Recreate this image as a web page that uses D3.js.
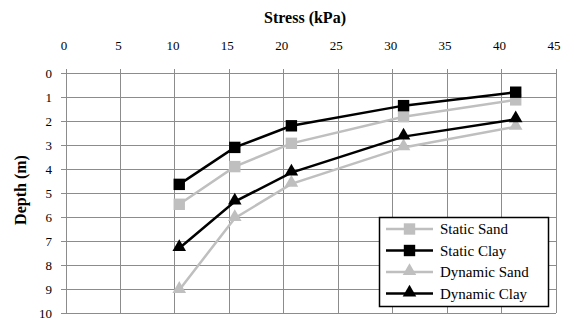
<!DOCTYPE html>
<html>
<head>
<meta charset="utf-8">
<script src="https://cdn.jsdelivr.net/npm/d3@7"></script>
<style>
  body { margin: 0; background: #fff; }
  svg { display: block; }
</style>
</head>
<body>
<svg width="562" height="320"></svg>
<script>
// stress values (kPa) shared by every series
const stress = [10.4, 15.5, 20.7, 31.0, 41.3];
const staticSand = [5.47, 3.9, 2.93, 1.82, 1.12];
const staticClay = [4.64, 3.1, 2.2, 1.36, 0.8];
const dynamicSand = [9.04, 6.05, 4.62, 3.1, 2.24];
const dynamicClay = [7.3, 5.36, 4.15, 2.65, 1.93];
const xTicks = [0, 5, 10, 15, 20, 25, 30, 35, 40, 45];
const yTicks = [0, 1, 2, 3, 4, 5, 6, 7, 8, 9, 10];

const series = [
    { name: "Static Sand", depth: staticSand, color: "#bfbfbf", marker: "square" },
    { name: "Static Clay", depth: staticClay, color: "#000000", marker: "square" },
    { name: "Dynamic Sand", depth: dynamicSand, color: "#bfbfbf", marker: "triangle" },
    { name: "Dynamic Clay", depth: dynamicClay, color: "#000000", marker: "triangle" }
];

const serif = "'Liberation Serif', 'DejaVu Serif', serif";

const svg = d3.select("svg");

// plot area
const plotLeft = 66, plotRight = 556, plotTop = 73, plotBottom = 313;

const x = d3.scaleLinear().domain([0, 45]).range([plotLeft, plotRight]);
const y = d3.scaleLinear().domain([0, 10]).range([plotTop, plotBottom]);

// grid lines
svg.append("g")
   .selectAll("line")
   .data(xTicks)
   .enter()
   .append("line")
   .attr("x1", d => x(d)).attr("x2", d => x(d))
   .attr("y1", plotTop - 4).attr("y2", plotBottom)
   .attr("stroke", "#8c8c8c").attr("stroke-width", 1)
   .attr("shape-rendering", "crispEdges");

svg.append("g")
   .selectAll("line")
   .data(yTicks)
   .enter()
   .append("line")
   .attr("x1", plotLeft - 5).attr("x2", plotRight)
   .attr("y1", d => y(d)).attr("y2", d => y(d))
   .attr("stroke", "#8c8c8c").attr("stroke-width", 1)
   .attr("shape-rendering", "crispEdges");

// top axis labels
svg.append("g")
   .selectAll("text")
   .data(xTicks)
   .enter()
   .append("text")
   .attr("x", d => x(d) - 2)
   .attr("y", 50)
   .attr("text-anchor", "middle")
   .style("font-family", serif)
   .style("font-size", "13px")
   .style("fill", "#000")
   .text(d => d);

// left axis labels
svg.append("g")
   .selectAll("text")
   .data(yTicks)
   .enter()
   .append("text")
   .attr("x", 52)
   .attr("y", d => y(d) + 5)
   .attr("text-anchor", "end")
   .style("font-family", serif)
   .style("font-size", "13px")
   .style("fill", "#000")
   .text(d => d);

// axis titles
svg.append("text")
   .attr("x", 305).attr("y", 23)
   .attr("text-anchor", "middle")
   .style("font-family", serif)
   .style("font-size", "16px").style("font-weight", "bold")
   .text("Stress (kPa)");

svg.append("text")
   .attr("transform", "translate(26,190) rotate(-90)")
   .attr("text-anchor", "middle")
   .style("font-family", serif)
   .style("font-size", "16px").style("font-weight", "bold")
   .text("Depth (m)");

const line = d3.line()
    .x(d => x(d[0]))
    .y(d => y(d[1]));

const squareSym = d3.symbol().type(d3.symbolSquare).size(130);
const triSym = d3.symbol().type(d3.symbolTriangle).size(80);

function drawMarker(g, s, cx, cy) {
    g.append("path")
     .attr("d", s.marker === "square" ? squareSym() : triSym())
     .attr("transform", `translate(${cx},${cy - (s.marker === "triangle" ? 1 : 0)})`)
     .attr("fill", s.color);
}

series.forEach(s => {
    const pts = stress.map((v, i) => [v, s.depth[i]]);
    const g = svg.append("g");
    g.append("path")
     .attr("d", line(pts))
     .attr("fill", "none")
     .attr("stroke", s.color)
     .attr("stroke-width", 2.5);
    pts.forEach(p => drawMarker(g, s, x(p[0]), y(p[1])));
});

// legend
const legend = svg.append("g");
legend.append("rect")
   .attr("x", 379.5).attr("y", 217.5)
   .attr("width", 169).attr("height", 89)
   .attr("fill", "#fff")
   .attr("stroke", "#000").attr("stroke-width", 1.5);

series.forEach((s, i) => {
    const ly = 229 + i * 21.5;
    legend.append("line")
       .attr("x1", 386).attr("x2", 433)
       .attr("y1", ly).attr("y2", ly)
       .attr("stroke", s.color).attr("stroke-width", 2.5);
    drawMarker(legend, s, 409.5, ly);
    legend.append("text")
       .attr("x", 440).attr("y", ly + 5)
       .style("font-family", serif)
       .style("font-size", "15px")
       .style("fill", "#000")
       .text(s.name);
});
</script>
</body>
</html>
